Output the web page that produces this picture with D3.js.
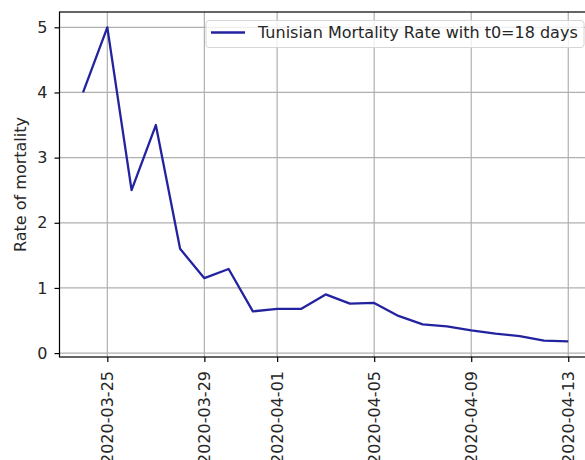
<!DOCTYPE html>
<html>
<head>
<meta charset="utf-8">
<script src="https://cdn.jsdelivr.net/npm/d3@7"></script>
<style>
  html, body { margin: 0; padding: 0; background: #fff; }
  svg { display: block; font-family: "DejaVu Sans", sans-serif; }
</style>
</head>
<body>
<svg id="chart" width="585" height="460"></svg>
<script>
// ---- data ----
const dates = ["2020-03-24","2020-03-25","2020-03-26","2020-03-27","2020-03-28","2020-03-29","2020-03-30","2020-03-31",
               "2020-04-01","2020-04-02","2020-04-03","2020-04-04","2020-04-05","2020-04-06","2020-04-07","2020-04-08",
               "2020-04-09","2020-04-10","2020-04-11","2020-04-12","2020-04-13"];
const mortality = [4.0, 5.0, 2.5, 3.5, 1.6, 1.15, 1.29, 0.64,
                   0.68, 0.68, 0.9, 0.76, 0.77, 0.57, 0.44, 0.41,
                   0.35, 0.3, 0.26, 0.19, 0.18];
const xTickLabels = ["2020-03-25","2020-03-29","2020-04-01","2020-04-05","2020-04-09","2020-04-13"];
const yTicks = [0, 1, 2, 3, 4, 5];
const seriesName = "Tunisian Mortality Rate with t0=18 days";
const yLabel = "Rate of mortality";

(function () {
// ---- layout ----
const svg = d3.select("#chart");
const mLeft = 59.5, mTop = 12, mBottom = 357;
const parse = d3.utcParse("%Y-%m-%d");
const x = d3.scaleUtc()
  .domain([parse("2020-03-23"), parse("2020-04-14")])
  .range([58.8, 58.8 + 22 * 24.26]);
const mRight = x.range()[1];
const y = d3.scaleLinear().domain([-0.06, 5.235]).range([mBottom, mTop]);

const grid = "#b0b0b0";
const fs = 16;
const txt = "#262626";

// grid lines
const g = svg.append("g");
g.selectAll(".vg").data(xTickLabels).enter().append("line")
  .attr("x1", d => x(parse(d))).attr("x2", d => x(parse(d)))
  .attr("y1", mTop).attr("y2", mBottom)
  .attr("stroke", grid).attr("stroke-width", 1.2);
g.selectAll(".hg").data(yTicks).enter().append("line")
  .attr("x1", mLeft).attr("x2", mRight)
  .attr("y1", d => y(d)).attr("y2", d => y(d))
  .attr("stroke", grid).attr("stroke-width", 1.2);

// line
const line = d3.line()
  .x((d, i) => x(parse(dates[i])))
  .y(d => y(d));
svg.append("path").datum(mortality)
  .attr("d", line)
  .attr("fill", "none")
  .attr("stroke", "#2323a0")
  .attr("stroke-width", 2.3)
  .attr("stroke-linejoin", "round");

// spines
svg.append("rect")
  .attr("x", mLeft).attr("y", mTop)
  .attr("width", mRight - mLeft).attr("height", mBottom - mTop)
  .attr("fill", "none").attr("stroke", "#000").attr("stroke-width", 1.2);

// y axis
const yAxis = d3.axisLeft(y).tickValues(yTicks).tickSize(5).tickPadding(7).tickFormat(d3.format("d"));
const ya = svg.append("g").attr("transform", `translate(${mLeft},0)`).call(yAxis);
ya.select(".domain").remove();
ya.selectAll("text").attr("font-size", fs).attr("font-family", "DejaVu Sans").attr("fill", txt);
ya.selectAll("line").attr("stroke", "#000").attr("stroke-width", 1.2);

// x axis
const xAxis = d3.axisBottom(x).tickValues(xTickLabels.map(parse)).tickSize(5)
  .tickFormat(d3.utcFormat("%Y-%m-%d"));
const xa = svg.append("g").attr("transform", `translate(0,${mBottom})`).call(xAxis);
xa.select(".domain").remove();
xa.selectAll("line").attr("stroke", "#000").attr("stroke-width", 1.2);
xa.selectAll("text")
  .attr("font-size", fs).attr("font-family", "DejaVu Sans").attr("fill", txt)
  .attr("transform", "rotate(-90)")
  .attr("text-anchor", "end")
  .attr("x", -14).attr("y", 0).attr("dy", "0.35em");

// y label
svg.append("text")
  .attr("transform", `translate(25.5,${(mTop + mBottom) / 2}) rotate(-90)`)
  .attr("text-anchor", "middle")
  .attr("font-size", fs).attr("fill", txt)
  .text(yLabel);

// legend
const lg = svg.append("g");
lg.append("rect")
  .attr("x", 206).attr("y", 20.5).attr("width", 378).attr("height", 27)
  .attr("rx", 3).attr("ry", 3)
  .attr("fill", "rgba(255,255,255,0.8)").attr("stroke", "#d6d6d6").attr("stroke-width", 1);
lg.append("line")
  .attr("x1", 211).attr("x2", 245).attr("y1", 32.5).attr("y2", 32.5)
  .attr("stroke", "#2323a0").attr("stroke-width", 2.3);
lg.append("text")
  .attr("x", 258).attr("y", 38)
  .attr("font-size", fs).attr("fill", txt)
  .text(seriesName);
})();
</script>
</body>
</html>
